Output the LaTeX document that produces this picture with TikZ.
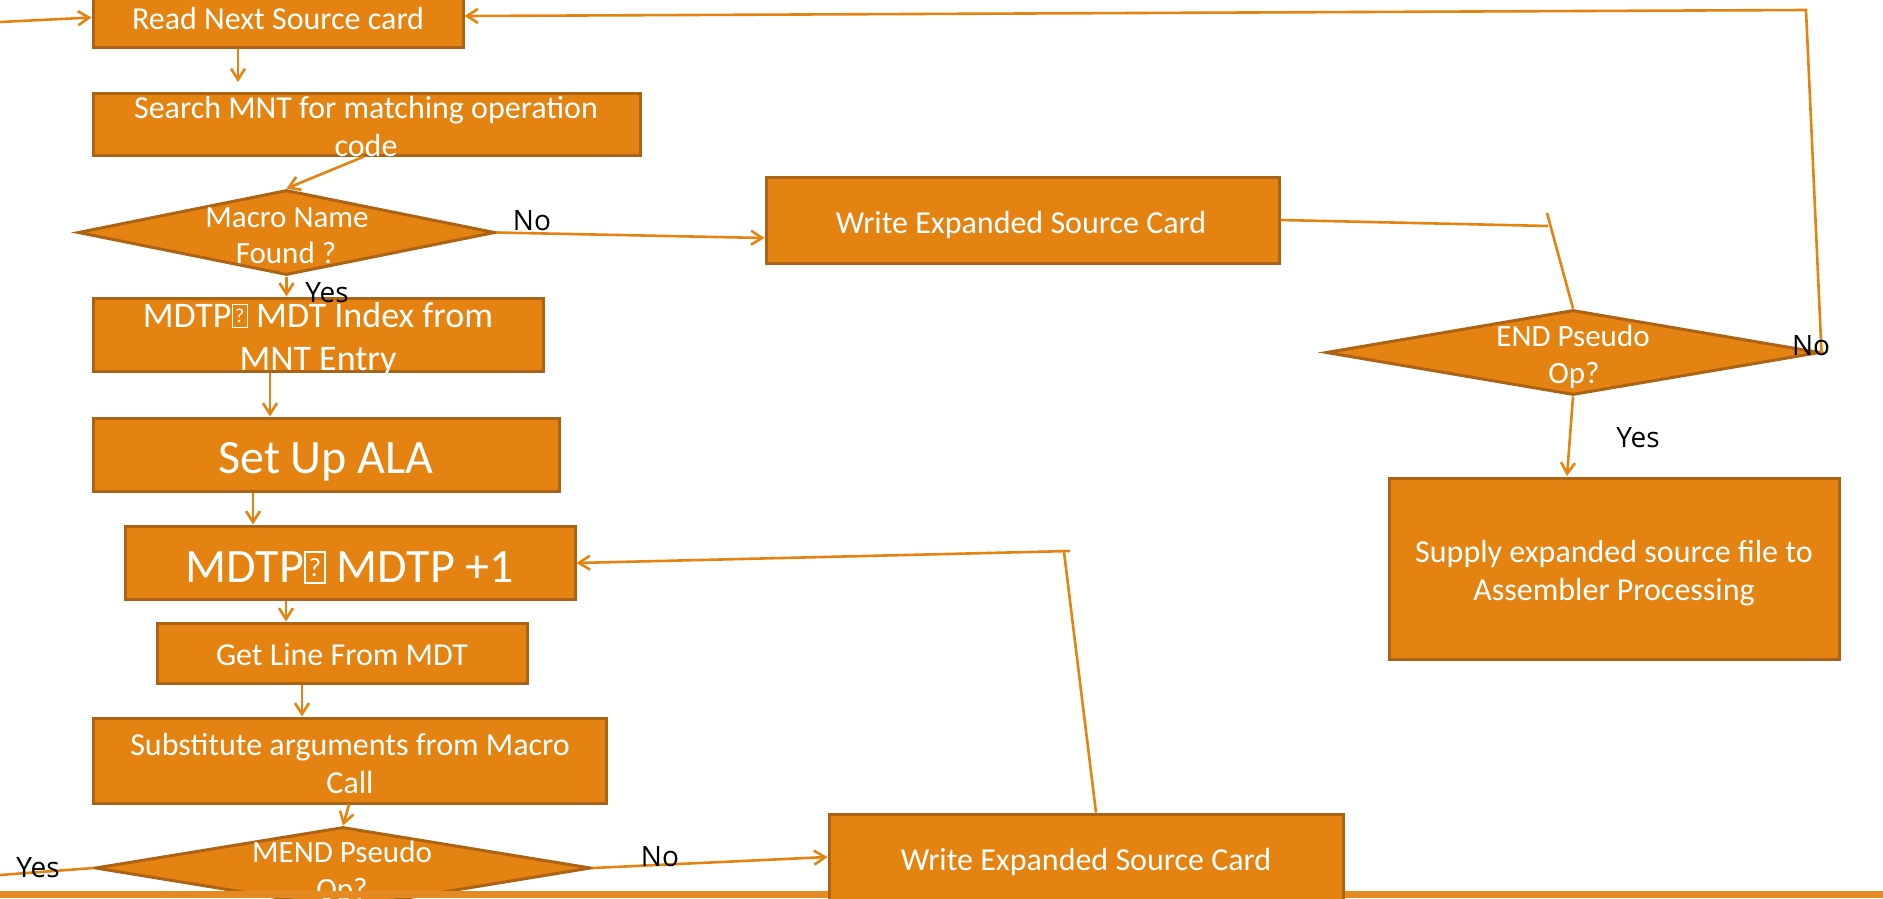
\documentclass[tikz,border=0pt]{standalone}
\usepackage{fontspec}
\setmainfont{Carlito}
\newfontfamily\labfont{Open Sans}
\usetikzlibrary{arrows.meta,shapes.geometric}
\definecolor{flowfill}{HTML}{E48312}
\definecolor{flowedge}{HTML}{AD6314}
\definecolor{flowline}{HTML}{E48312}
\definecolor{barfill}{HTML}{E58A22}
% font size in points with matching line height
\newcommand{\px}[1]{\fontsize{#1}{#1}\selectfont}
% boxed question mark standing in for an unavailable glyph
\newcommand{\nog}{\begingroup\setlength{\fboxsep}{0pt}\setlength{\fboxrule}{0.04em}%
  \fbox{\parbox[b][0.6em][c]{0.38em}{\centering\scalebox{0.55}{?}}}\endgroup}

\begin{document}
\begin{tikzpicture}[x=1pt,y=-1pt,
  box/.style={draw=flowedge, line width=3pt, fill=flowfill, rectangle, inner sep=0pt},
  dia/.style={draw=flowedge, line width=3pt, fill=flowfill, diamond, inner sep=0pt},
  conn/.style={draw=flowline, line width=2.6pt, -{Straight Barb[length=11pt,width=14pt]}},
  link/.style={draw=flowline, line width=2.6pt},
  txt/.style={text=white, inner sep=0pt, anchor=base},
  lab/.style={text=black, inner sep=0pt, anchor=base, font=\labfont\px{28}}]

\useasboundingbox (0,0) rectangle (1883,898);
\fill[white] (0,0) rectangle (1883,898);

% process boxes and decisions
\node[box, minimum width=370pt, minimum height=59pt] (rd) at (278,17.5) {};
\node[txt, font=\px{32}] (rd-a) at (278,29) {Read Next Source card};

\node[box, minimum width=547pt, minimum height=62pt] (sm) at (366.5,124) {};
\node[txt, font=\px{32}] (sm-a) at (366,118) {Search MNT for matching operation};
\node[txt, font=\px{32}] (sm-b) at (366,156) {code};

\node[dia, minimum width=417pt, minimum height=85pt] (mnf) at (286.5,232.5) {};
\node[txt, font=\px{31}] (mnf-a) at (287,227) {Macro Name};
\node[txt, font=\px{31}] (mnf-b) at (286,263) {Found ?};

\node[box, minimum width=450pt, minimum height=73pt] (mdi) at (318,334.5) {};
\node[txt, font=\px{36}] (mdi-a) at (318,327) {MDTP\nog{} MDT Index from};
\node[txt, font=\px{36}] (mdi-b) at (318,370) {MNT Entry};

\node[box, minimum width=466pt, minimum height=73pt] (ala) at (326,454.5) {};
\node[txt, font=\px{48}] (ala-a) at (326,473) {Set Up ALA};

\node[box, minimum width=450pt, minimum height=73pt] (inc) at (350,562.5) {};
\node[txt, font=\px{48}] (inc-a) at (350,582) {MDTP\nog{} MDTP +1};

\node[box, minimum width=370pt, minimum height=60pt] (gl) at (342,653) {};
\node[txt, font=\px{32}] (gl-a) at (342,665) {Get Line From MDT};

\node[box, minimum width=513pt, minimum height=85pt] (sub) at (349.5,760.5) {};
\node[txt, font=\px{32}] (sub-a) at (350,755) {Substitute arguments from Macro};
\node[txt, font=\px{32}] (sub-b) at (350,793) {Call};

\node[dia, minimum width=496pt, minimum height=82pt] (mend) at (343,868) {};
\node[txt, font=\px{31}] (mend-a) at (342,862) {MEND Pseudo};
\node[txt, font=\px{31}] (mend-b) at (342,899) {Op?};

\node[box, minimum width=513pt, minimum height=86pt] (w1) at (1022.5,220) {};
\node[txt, font=\px{32}] (w1-a) at (1021,233) {Write Expanded Source Card};

\node[dia, minimum width=494pt, minimum height=85pt] (end) at (1573,352.5) {};
\node[txt, font=\px{31}] (end-a) at (1573,346) {END Pseudo};
\node[txt, font=\px{31}] (end-b) at (1574,383) {Op?};

\node[box, minimum width=450pt, minimum height=181pt] (sup) at (1614,568.5) {};
\node[txt, font=\px{32}] (sup-a) at (1614,562) {Supply expanded source file to};
\node[txt, font=\px{32}] (sup-b) at (1614,600) {Assembler Processing};

% footer band
\fill[barfill] (0,891) rectangle (1883,898);

\node[box, minimum width=514pt, minimum height=92pt] (w2) at (1086,860) {};
\node[txt, font=\px{32}] (w2-a) at (1086,870) {Write Expanded Source Card};

% connector end points
\coordinate (lin) at (0,22);
\coordinate (t2) at (238,82);
\coordinate (s3) at (364,155);
\coordinate (t4) at (766,238);
\coordinate (x6) at (270,0);
\coordinate (x7) at (253,0);
\coordinate (x8) at (286,0);
\coordinate (x9) at (302,0);
\coordinate (s10) at (349,803);
\coordinate (t11) at (828,857);
\coordinate (lout) at (0,875);
\coordinate (b13) at (1096,0);
\coordinate (k13) at (1064,552);
\coordinate (h13) at (1070,551);
\coordinate (t13) at (0,563);
\coordinate (k14) at (1548,226);
\coordinate (u14) at (1547,213);
\coordinate (t15) at (1567,476);
\coordinate (c16) at (1806,10);
\coordinate (t16) at (0,16);

% connectors
\draw[conn] (lin) -- (rd.west);
\draw[conn] (rd.south -| t2) -- (t2);
\draw[conn] (sm.south -| s3) -- (mnf.north);
\draw[conn] (mnf.east) -- (w1.west |- t4);
\draw[conn] (mnf.south) -- (mdi.north -| mnf.south);
\draw[conn] (mdi.south -| x6) -- (ala.north -| x6);
\draw[conn] (ala.south -| x7) -- (inc.north -| x7);
\draw[conn] (inc.south -| x8) -- (gl.north -| x8);
\draw[conn] (gl.south -| x9) -- (sub.north -| x9);
\draw[conn] (sub.south -| s10) -- (mend.north);
\draw[conn] (mend.east) -- (w2.west |- t11);
\draw[link] (mend.west) -- (lout);
\draw[link] (w2.north -| b13) -- (k13);
\draw[conn] (h13) -- (inc.east |- t13);
\draw[link] (w1.east) -- (k14);
\draw[link] (u14) -- (end.north);
\draw[conn] (end.south) -- (t15);
\draw[conn] (end.east) -- (c16) -- (rd.east |- t16);

% branch labels
\node[lab] (l-no1) at (532,230) {No};
\node[lab] (l-yes1) at (327,302) {Yes};
\node[lab] (l-no2) at (1811,355) {No};
\node[lab] (l-yes2) at (1638,447) {Yes};
\node[lab] (l-yes3) at (38,877) {Yes};
\node[lab] (l-no3) at (660,866) {No};
\end{tikzpicture}
\end{document}
